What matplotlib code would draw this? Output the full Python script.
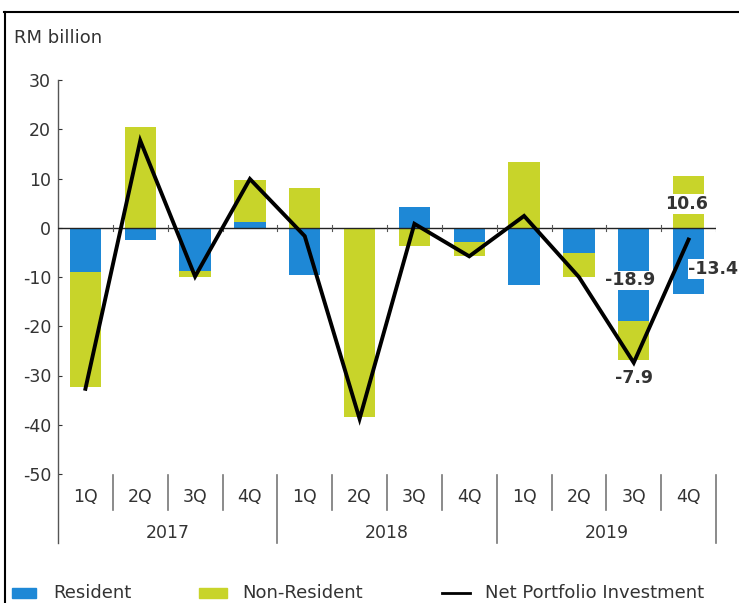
import matplotlib
matplotlib.use("Agg")
import matplotlib.pyplot as plt
from matplotlib.patches import Rectangle
from matplotlib.lines import Line2D

plt.rcParams['font.family'] = ['DejaVu Sans']

quarters = ["1Q", "2Q", "3Q", "4Q"] * 3
years = ["2017", "2018", "2019"]
resident = [-8.9, -2.4, -8.7, 1.2, -9.5, 0.0, 4.3, -2.9, -11.7, -5.2, -18.9, -13.4]
non_resident = [-23.5, 20.4, -1.4, 8.5, 8.0, -38.4, -3.7, -2.9, 13.3, -4.9, -7.9, 10.6]
net = [-32.7, 17.7, -9.9, 9.9, -1.7, -38.8, 0.8, -5.8, 2.4, -10.0, -27.4, -2.4]
yticks = [30, 20, 10, 0, -10, -20, -30, -40, -50]

blue = "#1e88d6"
green = "#c8d42a"
txt = "#333333"
fs = 12.5

fig = plt.figure(figsize=(7.39, 6.03), dpi=100)
ax = fig.add_axes([58/739, 1-474/603, (716-58)/739, (474-80)/603])

n = len(resident)
xs = [i + 0.5 for i in range(n)]
w = 0.57
for i in range(n):
    r, nr = resident[i], non_resident[i]
    ax.bar(xs[i], r, width=w, bottom=0, color=blue, zorder=2)
    if (r >= 0) == (nr >= 0):
        ax.bar(xs[i], nr, width=w, bottom=r, color=green, zorder=2)
    else:
        ax.bar(xs[i], nr, width=w, bottom=0, color=green, zorder=2)

ax.plot(xs, net, color="black", lw=2.8, zorder=4, solid_joinstyle="miter")

ax.set_xlim(0, n)
ax.set_ylim(-50, 30)
ax.set_yticks(yticks)
ax.set_yticklabels([str(v) for v in yticks], fontsize=fs, color=txt)
ax.tick_params(axis="y", direction="in", length=3, width=0.8, pad=5, colors=txt)
ax.set_xticks([])
for s in ["top", "right", "bottom", "left"]:
    ax.spines[s].set_visible(False)

# zero line with small ticks
ax.axhline(0, color="#222222", lw=1.0, zorder=3)
for k in range(1, n + 1):
    ax.plot([k, k], [-0.6, 0.6], color="#555555", lw=0.8, zorder=3)

# y axis spine extended below
tr = ax.get_xaxis_transform()
ax.plot([0, 0], [1.0, -0.175], transform=tr, color="#555555", lw=1.0, clip_on=False)

# separators
for k in range(1, n + 1):
    bottom = -0.175 if k % 4 == 0 else -0.0914
    ax.plot([k, k], [-0.003, bottom], transform=tr, color="#777777", lw=1.2, clip_on=False)

for i, q in enumerate(quarters):
    ax.text(xs[i], -0.058, q, transform=tr, ha="center", va="center", fontsize=fs, color=txt)
for j, yr in enumerate(years):
    ax.text(4 * j + 2, -0.150, yr, transform=tr, ha="center", va="center", fontsize=fs, color=txt)

# data labels
bbox = dict(facecolor="white", edgecolor="none", pad=0.5)
ax.text(10.43, -10.7, "-18.9", ha="center", va="center", fontsize=fs, fontweight="bold", color=txt, bbox=bbox, zorder=5)
ax.text(11.95, -8.4, "-13.4", ha="center", va="center", fontsize=fs, fontweight="bold", color=txt, bbox=bbox, zorder=5)
ax.text(11.47, 4.8, "10.6", ha="center", va="center", fontsize=fs, fontweight="bold", color=txt, bbox=bbox, zorder=5)
ax.text(10.5, -30.5, "-7.9", ha="center", va="center", fontsize=fs, fontweight="bold", color=txt, zorder=5)

fig.text(14/739, 1-38/603, "RM billion", ha="left", va="center", fontsize=13, color=txt)

# legend
ly = 1 - 593/603
fig.add_artist(Rectangle((12/739, 1-598/603), 24/739, 10/603, transform=fig.transFigure, color=blue))
fig.text(53/739, ly, "Resident", ha="left", va="center", fontsize=13, color=txt)
fig.add_artist(Rectangle((199/739, 1-598/603), 28/739, 10/603, transform=fig.transFigure, color=green))
fig.text(242/739, ly, "Non-Resident", ha="left", va="center", fontsize=13, color=txt)
fig.add_artist(Line2D([442/739, 470/739], [ly, ly], transform=fig.transFigure, color="black", lw=2))
fig.text(485/739, ly, "Net Portfolio Investment", ha="left", va="center", fontsize=13, color=txt)

# frame
fig.add_artist(Line2D([4/739, 1], [1-12/603, 1-12/603], transform=fig.transFigure, color="black", lw=1.5))
fig.add_artist(Line2D([4.5/739, 4.5/739], [0, 1-12/603], transform=fig.transFigure, color="black", lw=1.5))

fig.savefig("out.png", dpi=100)
